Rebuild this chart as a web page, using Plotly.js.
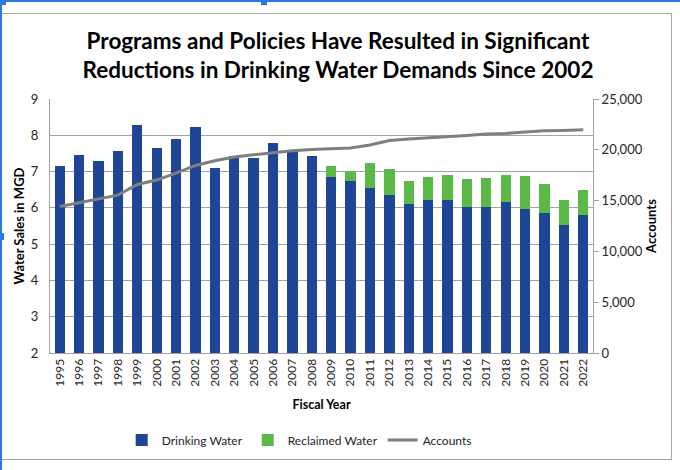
<!DOCTYPE html>
<html>
<head>
<meta charset="utf-8">
<script src="https://cdn.plot.ly/plotly-3.0.1.min.js"></script>
<style>
  html, body { margin: 0; padding: 0; background: #ffffff; }
  #wrap { position: relative; width: 680px; height: 470px; overflow: hidden; }
  #chart { width: 680px; height: 470px; }
  .frame { position: absolute; left: 1px; top: 13px; width: 671px; height: 447px; border: 1px solid #A6A6A6; pointer-events: none; box-sizing: border-box; }
  .selTop { position: absolute; left: 0; top: 0; width: 680px; height: 2px; background: #2B78E4; pointer-events: none; }
  .selLeft { position: absolute; left: 0; top: 0; width: 2px; height: 470px; background: #2B78E4; pointer-events: none; }
  .handle { position: absolute; width: 6px; height: 5px; background: #2B78E4; pointer-events: none; }
</style>
</head>
<body>
<div id="wrap">
  <div id="chart"></div>
  <div class="frame"></div>
  <div class="selTop"></div>
  <div class="selLeft"></div>
  <div class="handle" style="left:0;top:0;"></div>
  <div class="handle" style="left:261px;top:0;"></div>
  <div class="handle" style="left:0;top:233px;width:4px;height:7px;"></div>
</div>
<script>
// ---- Data ----
const years = ["1995","1996","1997","1998","1999","2000","2001","2002","2003","2004",
               "2005","2006","2007","2008","2009","2010","2011","2012","2013","2014",
               "2015","2016","2017","2018","2019","2020","2021","2022"];
const drinkingWater = [7.14, 7.47, 7.30, 7.57, 8.27, 7.65, 7.90, 8.22, 7.10, 7.42,
                       7.37, 7.79, 7.60, 7.42, 6.86, 6.73, 6.56, 6.35, 6.10, 6.21,
                       6.23, 6.02, 6.02, 6.16, 5.98, 5.86, 5.54, 5.81];
const reclaimedWater = [0, 0, 0, 0, 0, 0, 0, 0, 0, 0,
                        0, 0, 0, 0, 0.28, 0.29, 0.68, 0.71, 0.63, 0.64,
                        0.67, 0.77, 0.79, 0.75, 0.90, 0.80, 0.67, 0.69];
const accounts = [14420, 14810, 15200, 15540, 16590, 17020, 17710, 18460, 18920, 19290,
                  19510, 19740, 19900, 20030, 20100, 20170, 20470, 20920, 21060, 21160,
                  21290, 21410, 21550, 21610, 21750, 21880, 21910, 21980];
const leftTicks = [2, 3, 4, 5, 6, 7, 8, 9];
const rightTicks = [0, 5000, 10000, 15000, 20000, 25000];

const FONT = "Lato, 'Open Sans', sans-serif";
const GRID = "#A3A3A3";

const traces = [
  { type: "bar", name: "Drinking Water", x: years, y: drinkingWater,
    marker: { color: "#1F4696" }, hoverinfo: "x+y" },
  { type: "bar", name: "Reclaimed Water", x: years, y: reclaimedWater,
    marker: { color: "#5BB947" }, hoverinfo: "x+y" },
  { type: "scatter", mode: "lines", name: "Accounts", x: years, y: accounts, yaxis: "y2",
    line: { color: "#7F7F7F", width: 3 }, hoverinfo: "x+y" }
];

const layout = {
  width: 680, height: 470,
  paper_bgcolor: "#ffffff", plot_bgcolor: "#ffffff",
  font: { family: FONT, size: 12, color: "#262626" },
  margin: { l: 50, r: 87, t: 99, b: 117, pad: 0 },
  title: {
    text: "<b>Programs and Policies Have Resulted in Significant<br>Reductions in Drinking Water Demands Since 2002</b>",
    font: { family: FONT, size: 22.5, color: "#000000" },
    x: 0.497, xanchor: "center", xref: "container",
    y: 1 - 49 / 470, yanchor: "top", yref: "container"
  },
  barmode: "stack",
  bargap: 0.47,
  showlegend: true,
  legend: {
    orientation: "h", x: 0.44, xanchor: "center", xref: "container",
    y: 1 - 440 / 470, yanchor: "middle", yref: "container",
    font: { family: FONT, size: 12, color: "#262626" },
    traceorder: "normal", itemwidth: 30
  },
  xaxis: {
    type: "category",
    tickangle: -90,
    tickfont: { family: FONT, size: 12, color: "#262626" },
    showline: true, linecolor: GRID, linewidth: 1,
    ticks: "", showgrid: false,
    title: { text: "<b>Fiscal Year</b>", font: { family: FONT, size: 12.5, color: "#000000" }, standoff: 14 }
  },
  yaxis: {
    range: [2, 9], tickvals: leftTicks,
    tickfont: { family: FONT, size: 13, color: "#262626" },
    showline: true, linecolor: GRID, linewidth: 1, mirror: false,
    showgrid: true, gridcolor: GRID, gridwidth: 1,
    ticks: "", ticklabelstandoff: 8, zeroline: false,
    title: { text: "<b>Water Sales in MGD</b>", font: { family: FONT, size: 13, color: "#000000" }, standoff: 3 }
  },
  yaxis2: {
    overlaying: "y", side: "right",
    range: [0, 25000], tickvals: rightTicks, tickformat: ",",
    tickfont: { family: FONT, size: 13, color: "#262626" },
    showline: true, linecolor: GRID, linewidth: 1,
    ticks: "outside", ticklen: 5, tickcolor: GRID,
    showgrid: false, zeroline: false,
    title: { text: "<b>Accounts</b>", font: { family: FONT, size: 13, color: "#000000" }, standoff: 2 }
  }
};

Plotly.newPlot("chart", traces, layout, { displayModeBar: false, staticPlot: true });
</script>
</body>
</html>
